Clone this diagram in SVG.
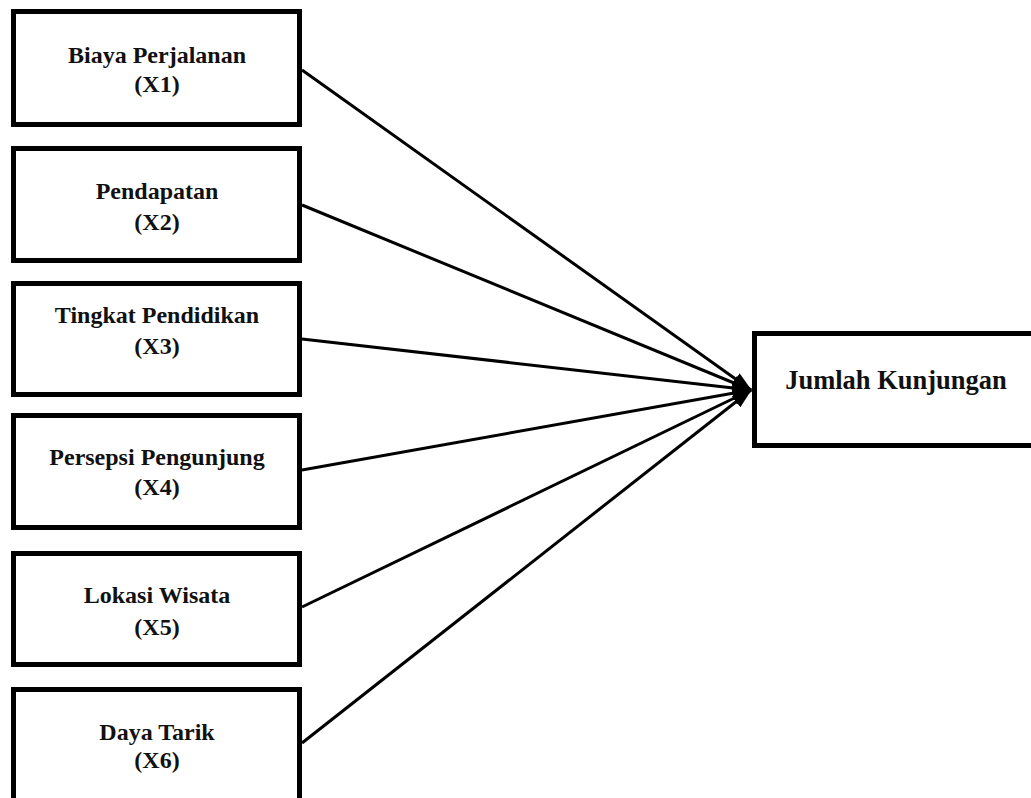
<svg xmlns="http://www.w3.org/2000/svg" width="1031" height="798" viewBox="0 0 1031 798">
<style>
.box{fill:#fff;stroke:#000;stroke-width:5}
.t{font-family:"Liberation Serif","Times New Roman",serif;font-weight:bold;font-size:24px;fill:#111;text-anchor:middle}
.tr{font-size:26.5px}
.c{stroke:#000;stroke-width:3;fill:none}
</style>
<defs>
<marker id="ah" markerUnits="userSpaceOnUse" markerWidth="20" markerHeight="16" refX="19" refY="8" orient="auto" viewBox="0 0 20 16">
<path d="M0,1 L20,8 L0,15 z" fill="#000"/>
</marker>
</defs>
<rect width="1031" height="798" fill="#fff"/>
<g id="connectors">
<line class="c" x1="302" y1="70" x2="751" y2="390" marker-end="url(#ah)"/>
<line class="c" x1="302" y1="205" x2="751" y2="390" marker-end="url(#ah)"/>
<line class="c" x1="302" y1="339" x2="751" y2="390" marker-end="url(#ah)"/>
<line class="c" x1="302" y1="470" x2="751" y2="390" marker-end="url(#ah)"/>
<line class="c" x1="302" y1="607" x2="751" y2="390" marker-end="url(#ah)"/>
<line class="c" x1="302" y1="743" x2="751" y2="390" marker-end="url(#ah)"/>
</g>
<g id="x1">
<rect class="box" x="13.5" y="11.5" width="286" height="113"/>
<text class="t" x="157" y="63">Biaya Perjalanan</text>
<text class="t" x="157" y="92">(X1)</text>
</g>
<g id="x2">
<rect class="box" x="13.5" y="148.5" width="286" height="112"/>
<text class="t" x="157" y="199">Pendapatan</text>
<text class="t" x="157" y="230">(X2)</text>
</g>
<g id="x3">
<rect class="box" x="13.5" y="283.5" width="286" height="111"/>
<text class="t" x="157" y="323">Tingkat Pendidikan</text>
<text class="t" x="157" y="354">(X3)</text>
</g>
<g id="x4">
<rect class="box" x="13.5" y="415.5" width="286" height="112"/>
<text class="t" x="157" y="465">Persepsi Pengunjung</text>
<text class="t" x="157" y="495">(X4)</text>
</g>
<g id="x5">
<rect class="box" x="13.5" y="553.5" width="286" height="111"/>
<text class="t" x="157" y="603">Lokasi Wisata</text>
<text class="t" x="157" y="635">(X5)</text>
</g>
<g id="x6">
<rect class="box" x="13.5" y="689.5" width="286" height="118"/>
<text class="t" x="157" y="740">Daya Tarik</text>
<text class="t" x="157" y="768">(X6)</text>
</g>
<g id="y">
<rect class="box" x="754.5" y="333.5" width="290" height="112"/>
<text class="t tr" x="896" y="389">Jumlah Kunjungan</text>
</g>
</svg>
